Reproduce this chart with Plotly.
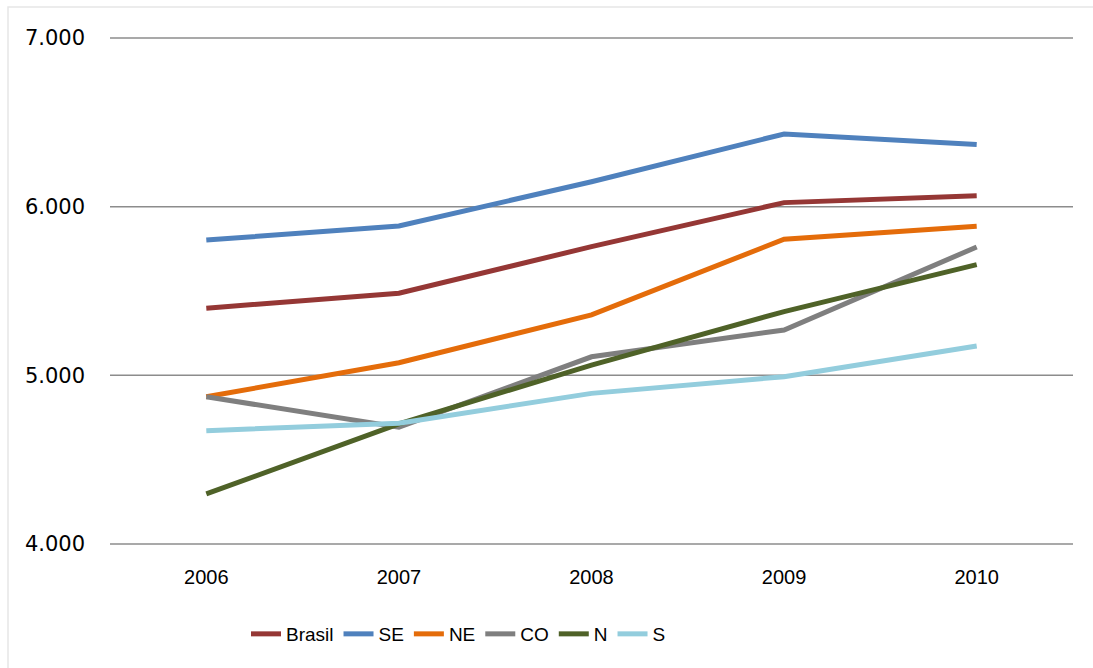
import plotly.graph_objects as go

# Years on the category axis
years = ["2006", "2007", "2008", "2009", "2010"]

# Series values per region
brasil = [5398, 5487, 5763, 6024, 6065]
se = [5802, 5885, 6148, 6431, 6368]
ne = [4873, 5075, 5358, 5807, 5884]
co = [4873, 4692, 5110, 5269, 5761]
n = [4297, 4712, 5061, 5378, 5656]
s = [4672, 4716, 4893, 4992, 5174]

series = [
    ("Brasil", brasil, "#953735"),
    ("SE", se, "#4F81BD"),
    ("NE", ne, "#E46C0A"),
    ("CO", co, "#7F7F7F"),
    ("N", n, "#4F6228"),
    ("S", s, "#93CDDD"),
]

y_ticks = [4000, 5000, 6000, 7000]
y_min, y_max = y_ticks[0], y_ticks[-1]

W, H = 1093, 668
ML, MR, MT, MB = 110, 20, 38, 124
PW, PH = W - ML - MR, H - MT - MB

fig = go.Figure()
for name, vals, color in series:
    fig.add_trace(go.Scatter(
        x=years, y=vals, name=name, mode="lines",
        line=dict(color=color, width=5),
    ))

sans = "Liberation Sans Narrow, Liberation Sans, Arial, sans-serif"

# Horizontal gridlines at every tick, in paper space so the edge lines are not clipped
grid = [
    dict(type="line", xref="paper", yref="paper", layer="below",
         x0=0, x1=1,
         y0=(v - y_min) / (y_max - y_min), y1=(v - y_min) / (y_max - y_min),
         line=dict(color="#8C8C8C", width=1.5))
    for v in y_ticks
]

frame = dict(
    type="rect", xref="paper", yref="paper", layer="below",
    x0=(8 - ML) / PW, x1=(1110 - ML) / PW,
    y0=-(690 - (MT + PH)) / PH, y1=1 + (MT - 7) / PH,
    line=dict(color="#E6E6E6", width=1.5), fillcolor="rgba(0,0,0,0)",
)

fig.update_layout(
    width=W, height=H,
    margin=dict(l=ML, r=MR, t=MT, b=MB),
    paper_bgcolor="white", plot_bgcolor="white",
    separators=",.",
    showlegend=True,
    legend=dict(
        orientation="h",
        x=(246 - ML) / PW, xanchor="left",
        y=-(634 - (MT + PH)) / PH, yanchor="middle",
        font=dict(family=sans, size=19, color="#000000"),
        itemwidth=30, tracegroupgap=0,
        bgcolor="rgba(0,0,0,0)",
    ),
    xaxis=dict(
        type="category", range=[-0.5, 4.5],
        showgrid=False, zeroline=False, showline=False,
        ticks="", ticklabelstandoff=19,
        tickfont=dict(family=sans, size=20, color="#000000"),
    ),
    yaxis=dict(
        range=[y_min, y_max], tickvals=y_ticks, tickformat=",.0f",
        showgrid=False, zeroline=False, showline=False, ticks="",
        ticklabelstandoff=24,
        tickfont=dict(family="DejaVu Sans, sans-serif", size=21, color="#000000"),
    ),
    shapes=grid + [frame],
)

fig.write_html("out.html")
